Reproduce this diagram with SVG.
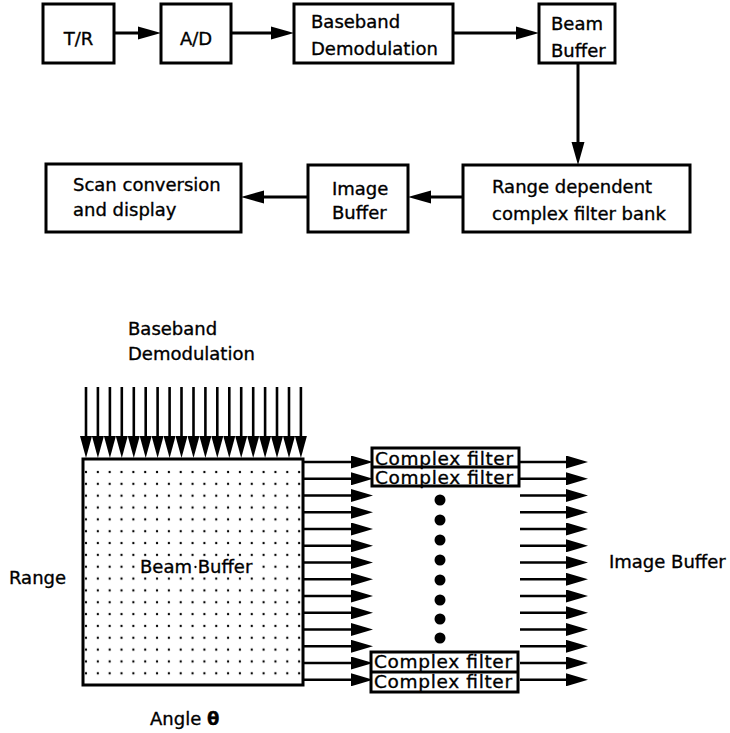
<svg xmlns="http://www.w3.org/2000/svg" width="730" height="733" viewBox="0 0 730 733">
<defs>
<style>
text{font-family:"DejaVu Sans","Liberation Sans",sans-serif;font-size:18px;fill:#000;stroke:#000;stroke-width:0.35}
.box{fill:#fff;stroke:#000;stroke-width:3}
.ln{stroke:#000;stroke-width:3;fill:none}
.vl{stroke:#000;stroke-width:2.6;fill:none}
.cf{font-size:18.5px}
</style>
<marker id="ah" markerUnits="userSpaceOnUse" markerWidth="23" markerHeight="14" refX="15" refY="7" orient="auto">
<path d="M0,0.5 L23,7 L0,13.5 Z" fill="#000"/>
</marker>
<marker id="ahs" markerUnits="userSpaceOnUse" markerWidth="22" markerHeight="12" refX="14" refY="6" orient="auto">
<path d="M0,0 L22,6 L0,12 Z" fill="#000"/>
</marker>
<marker id="ahh" markerUnits="userSpaceOnUse" markerWidth="22" markerHeight="13" refX="14" refY="6.5" orient="auto">
<path d="M0,0 L22,6.5 L0,13 Z" fill="#000"/>
</marker>
<pattern id="dots" patternUnits="userSpaceOnUse" x="80.08" y="466.08" width="11.84" height="11.84">
<circle cx="5.92" cy="5.92" r="1.15" fill="#000"/>
</pattern>
</defs>
<rect width="730" height="733" fill="#fff"/>

<g id="connectors">
<line class="ln" x1="114" y1="33" x2="153" y2="33" marker-end="url(#ah)"/>
<line class="ln" x1="231" y1="33" x2="286" y2="33" marker-end="url(#ah)"/>
<line class="ln" x1="453" y1="33" x2="531" y2="33" marker-end="url(#ah)"/>
<line class="ln" x1="578" y1="63" x2="578" y2="157" marker-end="url(#ah)"/>
<line class="ln" x1="463" y1="197" x2="416" y2="197" marker-end="url(#ah)"/>
<line class="ln" x1="308" y1="197" x2="249" y2="197" marker-end="url(#ah)"/>
</g>

<g id="tr"><rect class="box" x="43" y="4" width="71" height="59"/><text x="78.5" y="45" text-anchor="middle">T/R</text></g>
<g id="ad"><rect class="box" x="161" y="4" width="70" height="59"/><text x="196" y="45" text-anchor="middle">A/D</text></g>
<g id="demod"><rect class="box" x="294" y="4" width="159" height="59"/><text x="311" y="28">Baseband</text><text x="311" y="55">Demodulation</text></g>
<g id="beambuf"><rect class="box" x="539" y="4" width="76" height="59"/><text x="551" y="30">Beam</text><text x="551" y="57">Buffer</text></g>
<g id="scan"><rect class="box" x="46" y="164" width="195" height="68"/><text x="73" y="191">Scan conversion</text><text x="73" y="216">and display</text></g>
<g id="imgbuf"><rect class="box" x="308" y="165" width="100" height="67"/><text x="332" y="195">Image</text><text x="332" y="219">Buffer</text></g>
<g id="filterbank"><rect class="box" x="463" y="165" width="227" height="67"/><text x="492" y="193">Range dependent</text><text x="492" y="220">complex filter bank</text></g>

<g id="bottom-labels">
<text x="128" y="335">Baseband</text>
<text x="128" y="360">Demodulation</text>
<text x="9" y="584">Range</text>
<text x="609" y="568">Image Buffer</text>
<text x="150" y="725">Angle <tspan font-weight="bold">θ</tspan></text>
</g>

<g id="input-arrows">
<line class="vl" x1="86" y1="387" x2="86" y2="450" marker-end="url(#ahs)"/>
<line class="vl" x1="97.9" y1="387" x2="97.9" y2="450" marker-end="url(#ahs)"/>
<line class="vl" x1="109.9" y1="387" x2="109.9" y2="450" marker-end="url(#ahs)"/>
<line class="vl" x1="121.8" y1="387" x2="121.8" y2="450" marker-end="url(#ahs)"/>
<line class="vl" x1="133.8" y1="387" x2="133.8" y2="450" marker-end="url(#ahs)"/>
<line class="vl" x1="145.7" y1="387" x2="145.7" y2="450" marker-end="url(#ahs)"/>
<line class="vl" x1="157.6" y1="387" x2="157.6" y2="450" marker-end="url(#ahs)"/>
<line class="vl" x1="169.6" y1="387" x2="169.6" y2="450" marker-end="url(#ahs)"/>
<line class="vl" x1="181.5" y1="387" x2="181.5" y2="450" marker-end="url(#ahs)"/>
<line class="vl" x1="193.5" y1="387" x2="193.5" y2="450" marker-end="url(#ahs)"/>
<line class="vl" x1="205.4" y1="387" x2="205.4" y2="450" marker-end="url(#ahs)"/>
<line class="vl" x1="217.3" y1="387" x2="217.3" y2="450" marker-end="url(#ahs)"/>
<line class="vl" x1="229.3" y1="387" x2="229.3" y2="450" marker-end="url(#ahs)"/>
<line class="vl" x1="241.2" y1="387" x2="241.2" y2="450" marker-end="url(#ahs)"/>
<line class="vl" x1="253.2" y1="387" x2="253.2" y2="450" marker-end="url(#ahs)"/>
<line class="vl" x1="265.1" y1="387" x2="265.1" y2="450" marker-end="url(#ahs)"/>
<line class="vl" x1="277" y1="387" x2="277" y2="450" marker-end="url(#ahs)"/>
<line class="vl" x1="289" y1="387" x2="289" y2="450" marker-end="url(#ahs)"/>
<line class="vl" x1="300.9" y1="387" x2="300.9" y2="450" marker-end="url(#ahs)"/>
</g>

<g id="beam-buffer-grid">
<rect x="83" y="459" width="220" height="226" fill="#fff" stroke="none"/>
<rect x="84" y="465" width="218" height="216" fill="url(#dots)"/>
<rect x="139" y="558" width="116" height="19" fill="#fff"/>
<circle cx="195.5" cy="567" r="1.15" fill="#000"/>
<text x="140" y="573">Beam Buffer</text>
<rect x="83" y="459" width="220" height="226" fill="none" stroke="#000" stroke-width="3"/>
</g>

<g id="mid-arrows">
<line class="vl" x1="303" y1="462" x2="365" y2="462" marker-end="url(#ahh)"/>
<line class="vl" x1="303" y1="478.8" x2="365" y2="478.8" marker-end="url(#ahh)"/>
<line class="vl" x1="303" y1="495.5" x2="365" y2="495.5" marker-end="url(#ahh)"/>
<line class="vl" x1="303" y1="512.3" x2="365" y2="512.3" marker-end="url(#ahh)"/>
<line class="vl" x1="303" y1="529" x2="365" y2="529" marker-end="url(#ahh)"/>
<line class="vl" x1="303" y1="545.8" x2="365" y2="545.8" marker-end="url(#ahh)"/>
<line class="vl" x1="303" y1="562.5" x2="365" y2="562.5" marker-end="url(#ahh)"/>
<line class="vl" x1="303" y1="579.3" x2="365" y2="579.3" marker-end="url(#ahh)"/>
<line class="vl" x1="303" y1="596" x2="365" y2="596" marker-end="url(#ahh)"/>
<line class="vl" x1="303" y1="612.8" x2="365" y2="612.8" marker-end="url(#ahh)"/>
<line class="vl" x1="303" y1="629.5" x2="365" y2="629.5" marker-end="url(#ahh)"/>
<line class="vl" x1="303" y1="646.3" x2="365" y2="646.3" marker-end="url(#ahh)"/>
<line class="vl" x1="303" y1="663" x2="365" y2="663" marker-end="url(#ahh)"/>
<line class="vl" x1="303" y1="679.8" x2="365" y2="679.8" marker-end="url(#ahh)"/>
</g>

<g id="out-arrows">
<line class="vl" x1="520" y1="462" x2="580" y2="462" marker-end="url(#ahh)"/>
<line class="vl" x1="520" y1="478.8" x2="580" y2="478.8" marker-end="url(#ahh)"/>
<line class="vl" x1="520" y1="495.5" x2="580" y2="495.5" marker-end="url(#ahh)"/>
<line class="vl" x1="520" y1="512.3" x2="580" y2="512.3" marker-end="url(#ahh)"/>
<line class="vl" x1="520" y1="529" x2="580" y2="529" marker-end="url(#ahh)"/>
<line class="vl" x1="520" y1="545.8" x2="580" y2="545.8" marker-end="url(#ahh)"/>
<line class="vl" x1="520" y1="562.5" x2="580" y2="562.5" marker-end="url(#ahh)"/>
<line class="vl" x1="520" y1="579.3" x2="580" y2="579.3" marker-end="url(#ahh)"/>
<line class="vl" x1="520" y1="596" x2="580" y2="596" marker-end="url(#ahh)"/>
<line class="vl" x1="520" y1="612.8" x2="580" y2="612.8" marker-end="url(#ahh)"/>
<line class="vl" x1="520" y1="629.5" x2="580" y2="629.5" marker-end="url(#ahh)"/>
<line class="vl" x1="520" y1="646.3" x2="580" y2="646.3" marker-end="url(#ahh)"/>
<line class="vl" x1="520" y1="663" x2="580" y2="663" marker-end="url(#ahh)"/>
<line class="vl" x1="520" y1="679.8" x2="580" y2="679.8" marker-end="url(#ahh)"/>
</g>

<g id="filters-top">
<rect class="box" x="372" y="448" width="147" height="38"/>
<line class="ln" x1="372" y1="467" x2="519" y2="467"/>
<text class="cf" x="375" y="465" textLength="138">Complex filter</text>
<text class="cf" x="375" y="484" textLength="138">Complex filter</text>
</g>

<g id="ellipsis">
<circle cx="440" cy="500" r="5.5"/>
<circle cx="440" cy="520" r="5.5"/>
<circle cx="440" cy="540" r="5.5"/>
<circle cx="440" cy="560" r="5.5"/>
<circle cx="440" cy="580" r="5.5"/>
<circle cx="440" cy="600" r="5.5"/>
<circle cx="440" cy="619" r="5.5"/>
<circle cx="440" cy="638" r="5.5"/>
</g>

<g id="filters-bottom">
<rect class="box" x="371" y="652" width="147" height="40"/>
<line class="ln" x1="371" y1="672" x2="518" y2="672"/>
<text class="cf" x="374" y="668" textLength="138">Complex filter</text>
<text class="cf" x="374" y="688" textLength="138">Complex filter</text>
</g>
</svg>
